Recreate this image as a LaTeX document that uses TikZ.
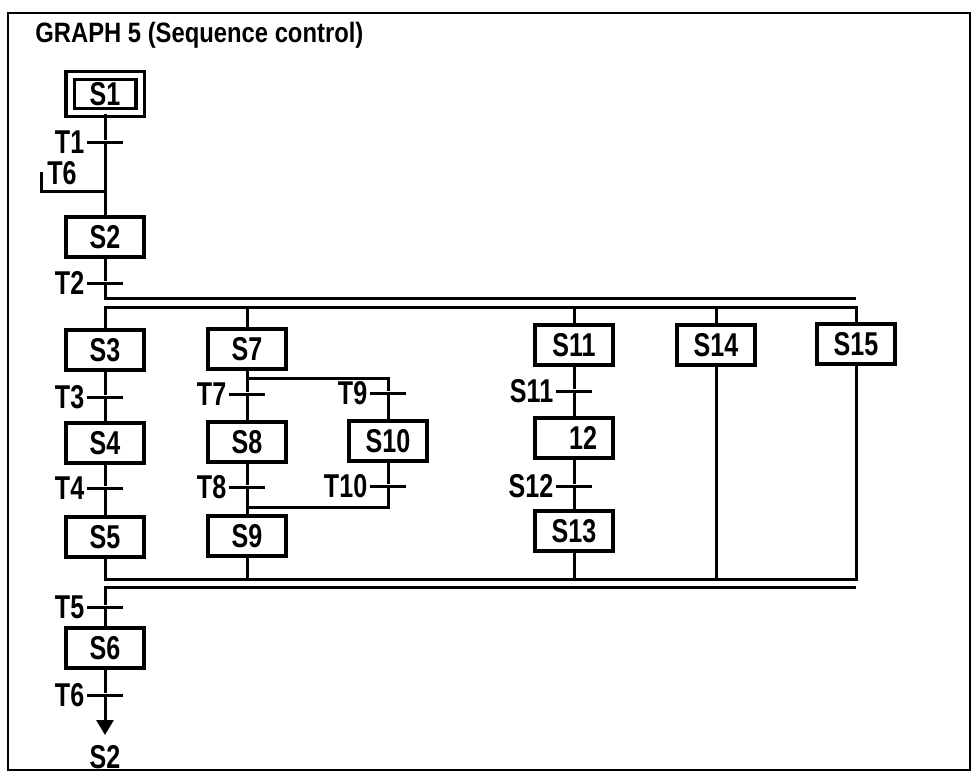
\documentclass[tikz,border=0pt]{standalone}
\usepackage{fontspec}
\usepackage{tikz}
\usetikzlibrary{arrows.meta,positioning}
\newfontfamily\grafcetfont[FakeStretch=0.76]{Liberation Sans}
\newfontfamily\headfont[FakeStretch=0.85]{Liberation Sans}

\begin{document}
\begin{tikzpicture}[
  x=0.5pt, y=-0.5pt,
  link/.style={line width=1.5pt},
  stepbox/.style={draw, line width=1.7pt, minimum width=39pt, minimum height=20pt, inner sep=0pt, font=\grafcetfont\bfseries\fontsize{16.5}{17}\selectfont},
  initstep/.style={stepbox, double, double distance=2.5pt, minimum width=35pt, minimum height=18.5pt},
  tlabel/.style={inner sep=1pt, font=\grafcetfont\bfseries\fontsize{16.5}{17}\selectfont},
  trans/.style={fill=black, minimum width=18pt, minimum height=1.5pt, inner sep=0pt, label distance=2pt, label={[tlabel]left:#1}}
]
\useasboundingbox (0,0) rectangle (979,773);
\draw[line width=1pt] (8,13) rectangle (970,770);
\node[anchor=base west, inner sep=0pt, font=\headfont\bfseries\fontsize{14}{16}\selectfont] (title) at (35,42) {GRAPH 5 (Sequence control)};

% main column
\node[initstep] (s1) at (105,94) {S1};
\node[trans=T1] (t1) at (105,142) {};
\coordinate (loop) at (105,191);
\coordinate (loopin) at (41,172);
\node[tlabel, anchor=base] (t6in) at (62,184) {T6};
\node[stepbox] (s2) at (105,237) {S2};
\node[trans=T2] (t2) at (105,283) {};
\coordinate (div1) at (105,298);
\coordinate (div2) at (105,307);

% branch 1
\node[stepbox] (s3) at (105,350) {S3};
\node[trans=T3] (t3) at (105,397) {};
\node[stepbox] (s4) at (105,443) {S4};
\node[trans=T4] (t4) at (105,488) {};
\node[stepbox] (s5) at (105,537) {S5};

% branch 2 with selection
\node[stepbox] (s7) at (247,349) {S7};
\coordinate (sel1) at (247,378);
\node[trans=T7] (t7) at (247,394) {};
\node[stepbox] (s8) at (247,442) {S8};
\node[trans=T8] (t8) at (247,487) {};
\coordinate (sel2) at (247,507);
\node[stepbox] (s9) at (247,536) {S9};
\node[trans=T9] (t9) at (388,393) {};
\node[stepbox] (s10) at (388,441) {S10};
\node[trans=T10] (t10) at (388,486) {};

% branches 3 to 5
\node[stepbox] (s11) at (574,345) {S11};
\node[trans=S11] (t11) at (574,391) {};
\node[stepbox] (s12) at (574,438) {\hspace*{9pt}12};
\node[trans=S12] (t12) at (574,486) {};
\node[stepbox] (s13) at (574,531) {S13};
\node[stepbox] (s14) at (716,345) {S14};
\node[stepbox] (s15) at (856,344) {S15};

% after convergence
\coordinate (con1) at (105,579);
\coordinate (con2) at (105,587);
\node[trans=T5] (t5) at (105,607) {};
\node[stepbox] (s6) at (105,648) {S6};
\node[trans=T6] (t6) at (105,695) {};
\coordinate (jump) at (105,735);
\node[tlabel, anchor=base] (goto) at (105,768) {S2};

\draw[link] (s1) -- (t1) -- (s2);
\draw[link] (loopin) |- (loop);
\draw[link] (s2) -- (t2) -- (div1) -- (div1 -| s15);
\draw[link] (s3) |- (div2) -| (s15);
\draw[link] (s3) -- (t3) -- (s4) -- (t4) -- (s5) |- (con1) -| (s15);
\draw[link] (s7 |- div2) -- (s7) -- (t7) -- (s8) -- (t8) -- (s9) -- (s9 |- con1);
\draw[link] (sel1) -| (t9) -- (s10) -- (t10) |- (sel2);
\draw[link] (s11 |- div2) -- (s11) -- (t11) -- (s12) -- (t12) -- (s13) -- (s13 |- con1);
\draw[link] (s14 |- div2) -- (s14) -- (s14 |- con1);
\draw[link] (con2 -| s15) -- (con2) -- (t5) -- (s6) -- (t6);
\draw[link, -{Triangle[length=7.5pt, width=8.5pt]}] (t6) -- (jump);
\end{tikzpicture}
\end{document}
